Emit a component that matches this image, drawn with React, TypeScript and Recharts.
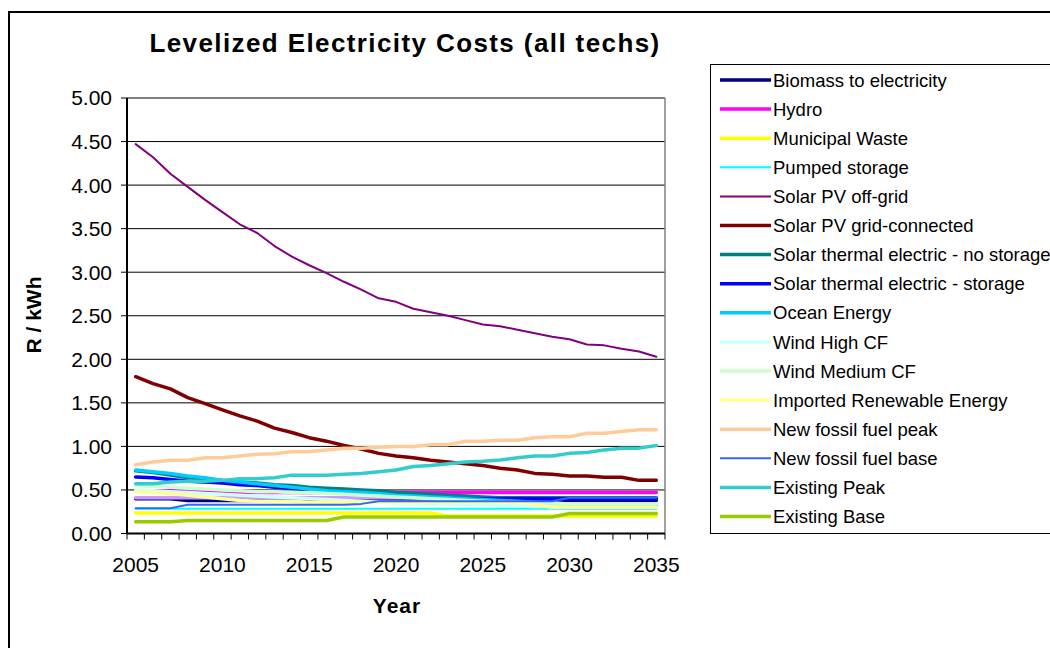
import React from 'react';
import { LineChart, Line, XAxis, YAxis, CartesianGrid, ReferenceLine } from 'recharts';

const FONT = '"Liberation Sans", Arial, Helvetica, sans-serif';

const years = [
  2005, 2006, 2007, 2008, 2009, 2010, 2011, 2012, 2013, 2014, 2015,
  2016, 2017, 2018, 2019, 2020, 2021, 2022, 2023, 2024, 2025,
  2026, 2027, 2028, 2029, 2030, 2031, 2032, 2033, 2034, 2035,
];

const yTicks = [0, 0.5, 1, 1.5, 2, 2.5, 3, 3.5, 4, 4.5, 5];
const yearLabels = [2005, 2010, 2015, 2020, 2025, 2030, 2035];

// R / kWh per technology, 2005..2035
const biomass = [0.40, 0.40, 0.40, 0.38, 0.38, 0.38, 0.38, 0.38, 0.38, 0.38, 0.38, 0.38, 0.38, 0.38, 0.38, 0.38, 0.38, 0.38, 0.38, 0.38, 0.38, 0.38, 0.38, 0.38, 0.38, 0.38, 0.38, 0.38, 0.38, 0.38, 0.38];
const hydro = [0.49, 0.49, 0.49, 0.48, 0.47, 0.47, 0.47, 0.47, 0.47, 0.47, 0.47, 0.47, 0.47, 0.47, 0.47, 0.47, 0.47, 0.47, 0.47, 0.47, 0.47, 0.47, 0.47, 0.47, 0.47, 0.47, 0.47, 0.47, 0.47, 0.47, 0.47];
const unlabelled = [0.41, 0.41, 0.41, 0.41, 0.41, 0.41, 0.41, 0.41, 0.41, 0.41, 0.41, 0.41, 0.41, 0.41, 0.41, 0.41, 0.41, 0.41, 0.41, 0.41, 0.41, 0.41, 0.41, 0.41, 0.41, 0.41, 0.41, 0.41, 0.41, 0.41, 0.41];
const municipalWaste = [0.235, 0.235, 0.235, 0.235, 0.235, 0.235, 0.235, 0.235, 0.235, 0.235, 0.235, 0.235, 0.235, 0.235, 0.235, 0.235, 0.235, 0.235, 0.20, 0.20, 0.20, 0.20, 0.20, 0.20, 0.20, 0.20, 0.20, 0.20, 0.20, 0.20, 0.20];
const pumpedStorage = [0.285, 0.285, 0.285, 0.285, 0.285, 0.285, 0.285, 0.285, 0.285, 0.285, 0.285, 0.285, 0.285, 0.285, 0.285, 0.285, 0.285, 0.285, 0.285, 0.285, 0.285, 0.285, 0.285, 0.285, 0.285, 0.285, 0.285, 0.285, 0.285, 0.285, 0.285];
const pvOffGrid = [4.47, 4.32, 4.13, 3.98, 3.83, 3.69, 3.55, 3.45, 3.30, 3.18, 3.08, 2.99, 2.89, 2.80, 2.70, 2.66, 2.58, 2.54, 2.50, 2.45, 2.40, 2.38, 2.34, 2.30, 2.26, 2.23, 2.17, 2.16, 2.12, 2.09, 2.03];
const pvGrid = [1.80, 1.72, 1.66, 1.56, 1.49, 1.42, 1.35, 1.29, 1.21, 1.16, 1.10, 1.06, 1.01, 0.97, 0.92, 0.89, 0.87, 0.84, 0.82, 0.80, 0.78, 0.75, 0.73, 0.69, 0.68, 0.66, 0.66, 0.645, 0.645, 0.61, 0.61];
const thermalNoStorage = [0.72, 0.70, 0.67, 0.64, 0.63, 0.61, 0.59, 0.58, 0.56, 0.55, 0.53, 0.52, 0.51, 0.50, 0.49, 0.47, 0.46, 0.45, 0.44, 0.43, 0.42, 0.41, 0.41, 0.41, 0.41, 0.41, 0.41, 0.41, 0.41, 0.41, 0.41];
const thermalStorage = [0.65, 0.64, 0.62, 0.60, 0.59, 0.58, 0.56, 0.55, 0.53, 0.52, 0.50, 0.48, 0.47, 0.45, 0.44, 0.43, 0.42, 0.41, 0.41, 0.40, 0.40, 0.40, 0.40, 0.40, 0.40, 0.40, 0.40, 0.40, 0.40, 0.40, 0.40];
const ocean = [0.73, 0.71, 0.69, 0.66, 0.64, 0.61, 0.59, 0.57, 0.55, 0.53, 0.51, 0.49, 0.48, 0.47, 0.46, 0.44, 0.43, 0.42, 0.41, 0.40, 0.39, 0.38, 0.37, 0.36, 0.35, 0.33, 0.32, 0.32, 0.32, 0.32, 0.32];
const windHigh = [0.50, 0.49, 0.48, 0.47, 0.46, 0.45, 0.44, 0.43, 0.42, 0.41, 0.40, 0.39, 0.38, 0.37, 0.36, 0.35, 0.35, 0.34, 0.34, 0.33, 0.33, 0.32, 0.32, 0.31, 0.31, 0.30, 0.30, 0.30, 0.30, 0.30, 0.30];
const windMedium = [0.55, 0.54, 0.53, 0.52, 0.51, 0.50, 0.49, 0.48, 0.48, 0.47, 0.47, 0.46, 0.45, 0.44, 0.43, 0.42, 0.41, 0.40, 0.39, 0.38, 0.37, 0.36, 0.36, 0.35, 0.35, 0.34, 0.34, 0.34, 0.34, 0.34, 0.34];
const imported = [0.48, 0.47, 0.46, 0.44, 0.42, 0.40, 0.38, 0.37, 0.37, 0.37, 0.36, 0.36, 0.36, 0.36, 0.36, 0.36, 0.36, 0.36, 0.36, 0.36, 0.36, 0.36, 0.36, 0.33, 0.30, 0.30, 0.30, 0.30, 0.30, 0.30, 0.30];
const fossilPeak = [0.79, 0.82, 0.84, 0.84, 0.87, 0.87, 0.89, 0.91, 0.915, 0.94, 0.94, 0.96, 0.98, 0.98, 0.99, 1.00, 1.00, 1.02, 1.02, 1.06, 1.06, 1.07, 1.07, 1.10, 1.11, 1.11, 1.15, 1.15, 1.17, 1.19, 1.19];
const fossilBase = [0.29, 0.29, 0.29, 0.33, 0.33, 0.33, 0.33, 0.33, 0.33, 0.33, 0.33, 0.33, 0.33, 0.34, 0.37, 0.37, 0.37, 0.37, 0.37, 0.37, 0.37, 0.37, 0.37, 0.37, 0.37, 0.41, 0.41, 0.41, 0.41, 0.41, 0.41];
const existingPeak = [0.57, 0.57, 0.59, 0.60, 0.60, 0.61, 0.63, 0.63, 0.64, 0.67, 0.67, 0.67, 0.68, 0.69, 0.71, 0.73, 0.77, 0.78, 0.80, 0.82, 0.83, 0.845, 0.87, 0.89, 0.89, 0.92, 0.93, 0.96, 0.98, 0.98, 1.01];
const existingBase = [0.135, 0.135, 0.135, 0.15, 0.15, 0.15, 0.15, 0.15, 0.15, 0.15, 0.15, 0.15, 0.19, 0.19, 0.19, 0.19, 0.19, 0.19, 0.19, 0.19, 0.19, 0.19, 0.19, 0.19, 0.19, 0.23, 0.23, 0.23, 0.23, 0.23, 0.23];

type Series = { key: string; name: string; color: string; width: number; values: number[]; inLegend: boolean };

// drawing order: later entries sit on top
const series: Series[] = [
  { key: 'biomass', name: 'Biomass to electricity', color: '#000080', width: 3.5, values: biomass, inLegend: true },
  { key: 'hydro', name: 'Hydro', color: '#FF00FF', width: 3.5, values: hydro, inLegend: true },
  { key: 'unlabelled', name: '', color: '#CC99FF', width: 3.5, values: unlabelled, inLegend: false },
  { key: 'municipal', name: 'Municipal Waste', color: '#FFFF00', width: 3.5, values: municipalWaste, inLegend: true },
  { key: 'pumped', name: 'Pumped storage', color: '#00FFFF', width: 2, values: pumpedStorage, inLegend: true },
  { key: 'pvOff', name: 'Solar PV off-grid', color: '#800080', width: 2, values: pvOffGrid, inLegend: true },
  { key: 'pvGrid', name: 'Solar PV grid-connected', color: '#800000', width: 3.5, values: pvGrid, inLegend: true },
  { key: 'stNo', name: 'Solar thermal electric - no storage', color: '#008080', width: 3.5, values: thermalNoStorage, inLegend: true },
  { key: 'stYes', name: 'Solar thermal electric - storage', color: '#0000FF', width: 3.5, values: thermalStorage, inLegend: true },
  { key: 'ocean', name: 'Ocean Energy', color: '#00CCFF', width: 3.5, values: ocean, inLegend: true },
  { key: 'windHigh', name: 'Wind High CF', color: '#CCFFFF', width: 3.5, values: windHigh, inLegend: true },
  { key: 'windMed', name: 'Wind Medium CF', color: '#CCFFCC', width: 3.5, values: windMedium, inLegend: true },
  { key: 'imported', name: 'Imported Renewable Energy', color: '#FFFF99', width: 3.5, values: imported, inLegend: true },
  { key: 'fossilPeak', name: 'New fossil fuel peak', color: '#FFCC99', width: 3.5, values: fossilPeak, inLegend: true },
  { key: 'fossilBase', name: 'New fossil fuel base', color: '#3366FF', width: 2, values: fossilBase, inLegend: true },
  { key: 'existPeak', name: 'Existing Peak', color: '#33CCCC', width: 3.5, values: existingPeak, inLegend: true },
  { key: 'existBase', name: 'Existing Base', color: '#99CC00', width: 3.5, values: existingBase, inLegend: true },
];

const rows = years.map((year, i) => {
  const row: Record<string, number> = { year };
  series.forEach((s) => { row[s.key] = s.values[i]; });
  return row;
});

// tick marks sit between the yearly categories
const boundaryTicks = [...years.map((y) => y - 0.5), years[years.length - 1] + 0.5];
const xDomain = [boundaryTicks[0], boundaryTicks[boundaryTicks.length - 1]];

const legendItems = series.filter((s) => s.inLegend);

function Decorations() {
  return (
    <svg width={1050} height={648} style={{ position: 'absolute', left: 0, top: 0 }} fontFamily={FONT}>
      <rect x={9} y={12} width={1100} height={700} fill="#fff" stroke="#000" strokeWidth={2} />
      <text x={405} y={52} textAnchor="middle" fontSize={26} fontWeight="bold" letterSpacing={1.4} fill="#000">
        Levelized Electricity Costs (all techs)
      </text>
      <text transform="translate(41,315) rotate(-90)" textAnchor="middle" fontSize={21} fontWeight="bold" fill="#000">
        R / kWh
      </text>
      <text x={397} y={613} textAnchor="middle" fontSize={21} fontWeight="bold" letterSpacing={1} fill="#000">
        Year
      </text>
      <rect x={710.5} y={64.5} width={400} height={469} fill="#fff" stroke="#000" strokeWidth={1} />
      {legendItems.map((s, i) => {
        const cy = 80 + i * 29.1;
        return (
          <g key={s.key}>
            <line x1={720} x2={771} y1={cy} y2={cy} stroke={s.color} strokeWidth={s.width} />
            <text x={773} y={cy + 6.6} fontSize={18.5} fill="#000">{s.name}</text>
          </g>
        );
      })}
    </svg>
  );
}

export default function App() {
  return (
    <div style={{ position: 'absolute', left: 0, top: 0, width: 1050, height: 648, overflow: 'hidden', background: '#fff', fontFamily: FONT }}>
      <Decorations />
      <div style={{ position: 'absolute', left: 0, top: 0 }}>
        <LineChart width={1050} height={648} data={rows} margin={{ top: 98, right: 385, bottom: 68.5, left: 0 }}>
          <CartesianGrid vertical={false} stroke="#000" strokeWidth={1} />
          <XAxis
            dataKey="year"
            type="number"
            domain={xDomain}
            ticks={boundaryTicks}
            interval={0}
            height={6}
            tickSize={6}
            tick={() => <g />}
            stroke="#000"
            axisLine={{ stroke: '#000', strokeWidth: 2 }}
            tickLine={{ stroke: '#000', strokeWidth: 1 }}
          />
          <XAxis
            xAxisId="labels"
            dataKey="year"
            type="number"
            domain={xDomain}
            ticks={yearLabels}
            interval={0}
            height={40}
            axisLine={false}
            tickLine={false}
            tickSize={0}
            tickMargin={18}
            tick={{ fill: '#000', fontSize: 21, fontFamily: FONT }}
          />
          <YAxis
            type="number"
            domain={[0, 5]}
            ticks={yTicks}
            interval={0}
            width={127}
            tickSize={6}
            tickMargin={9}
            tickFormatter={(v: number) => v.toFixed(2)}
            tick={{ fill: '#000', fontSize: 21, fontFamily: FONT }}
            axisLine={{ stroke: '#000', strokeWidth: 2 }}
            tickLine={{ stroke: '#000', strokeWidth: 1 }}
          />
          <ReferenceLine y={5} stroke="#808080" strokeWidth={1.5} />
          <ReferenceLine x={xDomain[1]} stroke="#808080" strokeWidth={1.5} />
          {series.map((s) => (
            <Line
              key={s.key}
              type="linear"
              dataKey={s.key}
              name={s.name}
              stroke={s.color}
              strokeWidth={s.width}
              strokeLinecap="round"
              strokeLinejoin="round"
              dot={false}
              activeDot={false}
              legendType={s.inLegend ? 'line' : 'none'}
              isAnimationActive={false}
            />
          ))}
        </LineChart>
      </div>
    </div>
  );
}
